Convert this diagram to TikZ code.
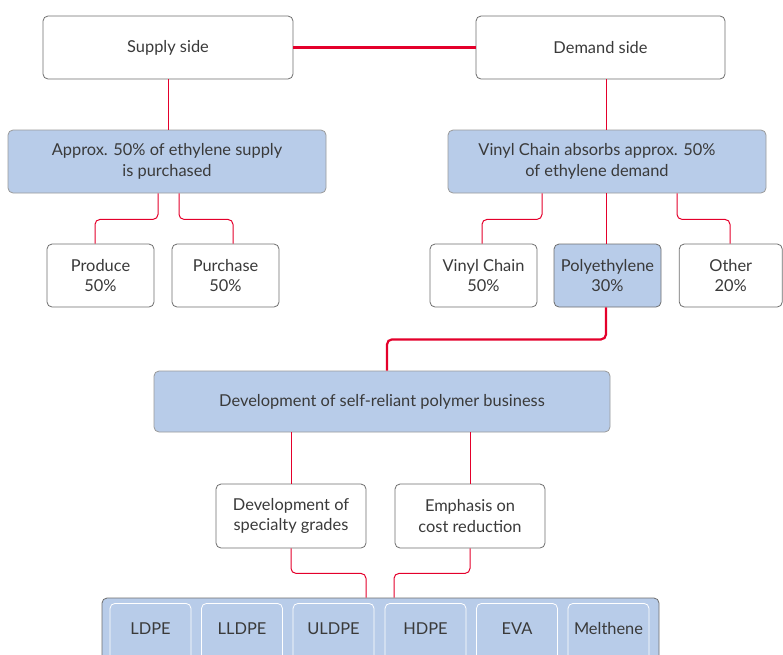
\documentclass[tikz,border=0pt]{standalone}
\usepackage{fontspec}
\setmainfont{Lato}
\usetikzlibrary{calc}
\definecolor{pblue}{HTML}{B8CCE9}
\definecolor{pred}{HTML}{E4002B}
\definecolor{bgray}{HTML}{6E6E6E}
\definecolor{lgray}{HTML}{9A9A9A}
\definecolor{txt}{HTML}{3A3A3A}
\newcommand{\fs}{\fontsize{16.4}{20.5}\selectfont}
\tikzset{
  box/.style={draw=bgray, fill=white, rounded corners=5pt, line width=0.8pt, inner sep=0pt,
    align=center, text=txt, font=\fs},
  bluebox/.style={box, fill=pblue, draw=lgray},
  pebox/.style={draw=white, fill=pblue, rounded corners=5pt, line width=0.8pt, inner sep=0pt,
    minimum width=81pt, minimum height=70pt, anchor=north},
  pelabel/.style={anchor=center, yshift=-26pt, text=txt, font=\fs, inner sep=0pt},
  conn/.style={draw=pred, line width=1pt, rounded corners=5pt},
  bigconn/.style={draw=pred, line width=2.2pt, rounded corners=5pt},
}
\begin{document}
\begin{tikzpicture}[x=1pt,y=-1pt]
\useasboundingbox (0,0) rectangle (783,654);
% top row
\node[box, minimum width=250pt, minimum height=63pt] (supply) at (168,47.5) {Supply side};
\node[box, minimum width=249pt, minimum height=63pt] (demand) at (600.5,47.5) {Demand side};
% second row
\node[bluebox, minimum width=318pt, minimum height=63pt] (approx) at (167,161.5)
  {Approx. 50\% of ethylene supply\\is purchased};
\node[bluebox, minimum width=318pt, minimum height=63pt,
  label={[anchor=center, xshift=-10pt, text=txt, font=\fs, align=center, inner sep=0pt]center:{Vinyl Chain absorbs approx. 50\%\\of ethylene demand}}]
  (absorbs) at (607,161.5) {};
% third row
\node[box, minimum width=107pt, minimum height=63pt] (produce) at (100.5,275.5) {Produce\\50\%};
\node[box, minimum width=107pt, minimum height=63pt] (purchase) at (225.5,275.5) {Purchase\\50\%};
\node[box, minimum width=107pt, minimum height=63pt] (vinyl) at (483.5,275.5) {Vinyl Chain\\50\%};
\node[bluebox, draw=bgray, minimum width=107pt, minimum height=63pt] (poly) at (607.5,275.5) {Polyethylene\\30\%};
\node[box, minimum width=103pt, minimum height=63pt] (other) at (730.75,275.5) {Other\\20\%};
% development
\node[bluebox, minimum width=456pt, minimum height=61pt] (develop) at (382,401.5)
  {Development of self-reliant polymer business};
\node[box, minimum width=150pt, minimum height=64pt] (special) at (291,516)
  {Development of\\specialty grades};
\node[box, minimum width=150pt, minimum height=64pt] (emphasis) at (470,516)
  {Emphasis on\\cost reduction};
% container
\node[draw=bgray, fill=pblue, rounded corners=5pt, line width=0.8pt, inner sep=0pt,
  minimum width=557pt, minimum height=84pt] (container) at (380.5,640) {};
\node[pebox, label={[pelabel]north:LDPE}] (ldpe) at (150.5,603) {};
\node[pebox, label={[pelabel]north:LLDPE}] (lldpe) at (242,603) {};
\node[pebox, label={[pelabel]north:ULDPE}] (uldpe) at (333.5,603) {};
\node[pebox, label={[pelabel]north:HDPE}] (hdpe) at (425.5,603) {};
\node[pebox, label={[pelabel]north:EVA}] (eva) at (517,603) {};
\node[pebox, label={[pelabel]north:Melthene}] (melthene) at (608.5,603) {};
% connectors
\draw[bigconn] (supply.east) -- (demand.west);
\draw[conn] (supply.south) -- (supply.south |- approx.north);
\draw[conn] ([xshift=5.5pt]demand.south) -- ([xshift=5.5pt]demand.south |- absorbs.north);
\draw[conn] ([xshift=-9pt]approx.south) -- ++(0,26) -| ([xshift=-5.5pt]produce.north);
\draw[conn] ([xshift=12pt]approx.south) -- ++(0,26) -| ([xshift=7.5pt]purchase.north);
\draw[conn] ([xshift=-65pt]absorbs.south) -- ++(0,26) -| ([xshift=-1.5pt]vinyl.north);
\draw[conn] ([xshift=-1pt]absorbs.south) -- ([xshift=-1pt]absorbs.south |- poly.north);
\draw[conn] ([xshift=70pt]absorbs.south) -- ++(0,26) -| ([xshift=-0.75pt]other.north);
\draw[bigconn] ([xshift=-1.5pt]poly.south) -- ++(0,32) -| ([xshift=5pt]develop.north);
\draw[conn] ([xshift=-91pt]develop.south) -- (special.north);
\draw[conn] ([xshift=88pt]develop.south) -- (emphasis.north);
\draw[conn] (special.south) -- ++(0,25) -| ([xshift=-14.5pt]container.north);
\draw[conn] (emphasis.south) -- ++(0,25) -| ([xshift=13.5pt]container.north);
\end{tikzpicture}
\end{document}
